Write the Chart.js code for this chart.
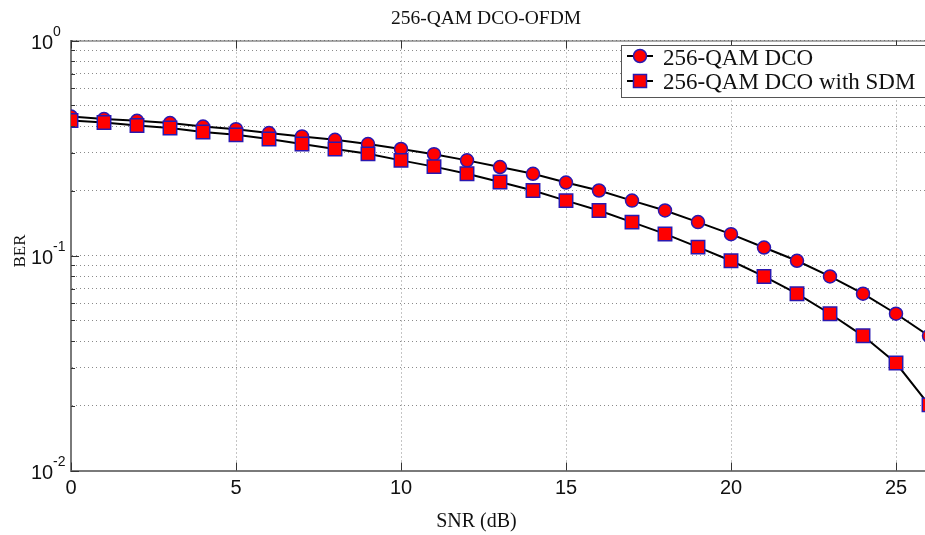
<!DOCTYPE html>
<html><head><meta charset="utf-8">
<script src="https://cdn.jsdelivr.net/npm/chart.js@4/dist/chart.umd.min.js"></script>
<style>
html,body{margin:0;padding:0;background:#fff;overflow:hidden;}
#wrap{width:925px;height:535px;overflow:hidden;position:relative;background:#fff;}
#c{position:absolute;left:0;top:0;}
</style></head><body>
<div id="wrap"><canvas id="c" width="945" height="535"></canvas></div>
<script>
const snr = [0,1,2,3,4,5,6,7,8,9,10,11,12,13,14,15,16,17,18,19,20,21,22,23,24,25,26];
const berDCO = [0.443,0.431,0.423,0.413,0.398,0.387,0.371,0.358,0.345,0.330,0.313,0.296,0.277,0.258,0.240,0.2185,0.2006,0.180,0.162,0.143,0.1257,0.1089,0.0945,0.0799,0.0664,0.0536,0.0423];
const berSDM = [0.4245,0.4156,0.4025,0.3914,0.375,0.364,0.348,0.330,0.313,0.297,0.277,0.259,0.240,0.2195,0.2006,0.180,0.162,0.143,0.126,0.1094,0.0945,0.0799,0.0664,0.0536,0.0423,0.0316,0.0202];
const xTicks = [0,5,10,15,20,25];
const yGrid = [0.01,0.02,0.03,0.04,0.05,0.06,0.07,0.08,0.09,0.1,0.2,0.3,0.4,0.5,0.6,0.7,0.8,0.9,1];
const yMajor = [1,0.1,0.01];
const yMajorExp = ['0','-1','-2'];
const seriesNames = ['256-QAM DCO','256-QAM DCO with SDM'];
const titleText = '256-QAM DCO-OFDM';
const xTitle = 'SNR (dB)';
const yTitle = 'BER';

const FILL = '#ff0000';
const EDGE = '#2a18b0';

const toPts = (ys) => snr.map((x,i)=>({x:x,y:ys[i]}));

const deco = {
  id:'deco',
  afterDraw(chart){
    const ctx = chart.ctx, a = chart.chartArea;
    const xs = chart.scales.x, ys = chart.scales.y;
    ctx.save();
    // top border
    ctx.strokeStyle = '#555'; ctx.lineWidth = 1;
    ctx.beginPath(); ctx.moveTo(a.left, a.top+0.5); ctx.lineTo(a.right, a.top+0.5); ctx.stroke();
    // inward ticks
    ctx.strokeStyle = '#333'; ctx.lineWidth = 1;
    yGrid.forEach(v=>{
      const p = Math.round(ys.getPixelForValue(v))+0.5;
      const len = yMajor.includes(v) ? 8 : 4;
      ctx.beginPath(); ctx.moveTo(a.left, p); ctx.lineTo(a.left+len, p); ctx.stroke();
    });
    xTicks.forEach(v=>{
      const p = Math.round(xs.getPixelForValue(v))+0.5;
      ctx.beginPath(); ctx.moveTo(p, a.bottom); ctx.lineTo(p, a.bottom-8); ctx.stroke();
      ctx.beginPath(); ctx.moveTo(p, a.top); ctx.lineTo(p, a.top+8); ctx.stroke();
    });
    // x tick labels
    ctx.fillStyle = '#111';
    ctx.font = '20px "Liberation Sans", Arial, sans-serif';
    ctx.textAlign = 'center'; ctx.textBaseline = 'alphabetic';
    xTicks.forEach(v=>{
      ctx.fillText(String(v), xs.getPixelForValue(v), 494);
    });
    // y tick labels
    yMajor.forEach((v,i)=>{
      const p = ys.getPixelForValue(v);
      ctx.textAlign = 'left';
      ctx.font = '20px "Liberation Sans", Arial, sans-serif';
      ctx.fillText('10', 31, p+8);
      ctx.font = '14px "Liberation Sans", Arial, sans-serif';
      ctx.fillText(yMajorExp[i], 53, p-5);
    });
    // title
    ctx.fillStyle = '#111';
    ctx.textAlign = 'center';
    ctx.font = '19.5px "Liberation Serif", "Times New Roman", serif';
    ctx.fillText(titleText, 486, 24);
    ctx.font = '20px "Liberation Serif", "Times New Roman", serif';
    ctx.fillText(xTitle, 476.5, 527);
    ctx.save();
    ctx.translate(25, 251); ctx.rotate(-Math.PI/2);
    ctx.font = '17px "Liberation Serif", "Times New Roman", serif';
    ctx.fillText(yTitle, 0, 0);
    ctx.restore();
    // legend
    ctx.fillStyle = '#fff';
    ctx.fillRect(621, 45, 320, 52);
    ctx.strokeStyle = '#555'; ctx.lineWidth = 1;
    ctx.strokeRect(621.5, 45.5, 320, 52);
    const rows = [{y:56, style:'circle', bl:65},{y:81, style:'rect', bl:89}];
    rows.forEach((r,i)=>{
      ctx.strokeStyle = '#000'; ctx.lineWidth = 2;
      ctx.beginPath(); ctx.moveTo(627, r.y); ctx.lineTo(653, r.y); ctx.stroke();
      ctx.fillStyle = FILL; ctx.strokeStyle = EDGE; ctx.lineWidth = 1.5;
      if (r.style==='circle'){
        ctx.beginPath(); ctx.arc(640, r.y, 6.5, 0, Math.PI*2); ctx.fill(); ctx.stroke();
      } else {
        ctx.beginPath(); ctx.rect(640-6.5, r.y-6.5, 13, 13); ctx.fill(); ctx.stroke();
      }
      ctx.fillStyle = '#111';
      ctx.textAlign = 'left';
      ctx.font = '23px "Liberation Serif", "Times New Roman", serif';
      ctx.fillText(seriesNames[i], 663, r.bl);
    });
    ctx.restore();
  }
};

new Chart(document.getElementById('c'), {
  type:'line',
  data:{
    datasets:[
      {label:seriesNames[0], data:toPts(berDCO), order:1,
       borderColor:'#000', borderWidth:2, tension:0,
       pointStyle:'circle', pointRadius:6.5, pointBackgroundColor:FILL, pointBorderColor:EDGE, pointBorderWidth:1.5},
      {label:seriesNames[1], data:toPts(berSDM), order:0,
       borderColor:'#000', borderWidth:2, tension:0,
       pointStyle:'rect', pointRadius:9.5, pointBackgroundColor:FILL, pointBorderColor:EDGE, pointBorderWidth:1.5}
    ]
  },
  options:{
    responsive:false, animation:false, devicePixelRatio:1,
    layout:{padding:{left:71, right:16, top:40.5, bottom:64.5}},
    plugins:{legend:{display:false}, title:{display:false}, tooltip:{enabled:false}},
    scales:{
      x:{type:'linear', min:0, max:26,
         afterBuildTicks:s=>{s.ticks = xTicks.map(v=>({value:v}));},
         afterFit:s=>{s.height=0;},
         ticks:{display:false},
         grid:{color:'#8a8a8a', lineWidth:1, drawTicks:false},
         border:{display:true, color:'#7a7a7a', width:2, dash:[1,3]}},
      y:{type:'logarithmic', min:0.01, max:1,
         afterBuildTicks:s=>{s.ticks = yGrid.map(v=>({value:v}));},
         afterFit:s=>{s.width=0;},
         ticks:{display:false},
         grid:{color:'#8a8a8a', lineWidth:1, drawTicks:false},
         border:{display:true, color:'#7a7a7a', width:2, dash:[1,3]}}
    }
  },
  plugins:[deco]
});
</script>
</body></html>
